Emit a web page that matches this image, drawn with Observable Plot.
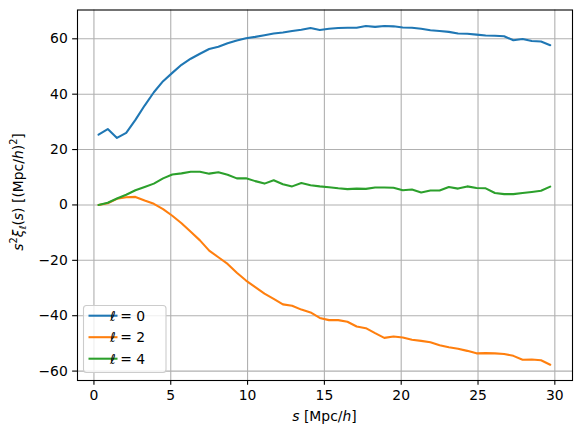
<!DOCTYPE html>
<html>
<head>
<meta charset="utf-8">
<script src="https://cdn.jsdelivr.net/npm/d3@7"></script>
<script src="https://cdn.jsdelivr.net/npm/@observablehq/plot@0.6"></script>
<style>
  html, body { margin: 0; padding: 0; background: #fff; }
  svg { display: block; }
</style>
</head>
<body>
<script>
// Separation bins s [Mpc/h]
const s = [0.3, 0.9, 1.5, 2.1, 2.7, 3.3, 3.9, 4.5, 5.1, 5.7,
           6.3, 6.9, 7.5, 8.1, 8.7, 9.3, 9.9, 10.5, 11.1, 11.7,
           12.3, 12.9, 13.5, 14.1, 14.7, 15.3, 15.9, 16.5, 17.1, 17.7,
           18.3, 18.9, 19.5, 20.1, 20.7, 21.3, 21.9, 22.5, 23.1, 23.7,
           24.3, 24.9, 25.5, 26.1, 26.7, 27.3, 27.9, 28.5, 29.1, 29.7];

// s^2 xi_ell(s) multipoles
const monopole = [25.4, 27.4, 24.2, 26.0, 30.7, 35.9, 40.7, 44.7, 47.7, 50.6,
                  52.8, 54.6, 56.3, 57.1, 58.4, 59.4, 60.2, 60.7, 61.3, 61.9,
                  62.3, 62.8, 63.3, 63.9, 63.2, 63.6, 63.9, 64.0, 64.0, 64.6,
                  64.3, 64.6, 64.5, 64.1, 64.0, 63.6, 63.1, 62.8, 62.5, 61.9,
                  61.8, 61.5, 61.2, 61.1, 60.9, 59.5, 59.9, 59.2, 59.0, 57.7];
const quadrupole = [0.0, 0.6, 2.2, 2.8, 2.9, 1.6, 0.4, -1.5, -3.9, -6.6,
                    -9.7, -12.8, -16.5, -18.9, -21.3, -24.5, -27.3, -29.7, -32.0, -33.9,
                    -35.9, -36.4, -37.8, -38.8, -40.8, -41.6, -41.6, -42.2, -43.9, -44.5,
                    -46.3, -48.0, -47.5, -47.9, -48.7, -49.1, -49.6, -50.7, -51.4, -51.9,
                    -52.7, -53.6, -53.5, -53.6, -53.8, -54.5, -55.9, -55.8, -56.1, -57.7];
const hexadecapole = [0.0, 0.8, 2.3, 3.7, 5.3, 6.5, 7.7, 9.6, 11.0, 11.4,
                      12.0, 12.0, 11.3, 11.8, 10.9, 9.6, 9.6, 8.6, 7.7, 8.9,
                      7.5, 6.7, 7.9, 7.1, 6.7, 6.4, 6.0, 5.7, 5.9, 5.8,
                      6.3, 6.3, 6.2, 5.3, 5.6, 4.5, 5.2, 5.2, 6.5, 5.9,
                      6.7, 6.1, 6.0, 4.3, 3.9, 3.9, 4.3, 4.7, 5.1, 6.6];

const ells = [0, 2, 4];
const colors = ["#1f77b4", "#ff7f0e", "#2ca02c"];
const xTicks = [0, 5, 10, 15, 20, 25, 30];
const yTicks = [-60, -40, -20, 0, 20, 40, 60];

const series = [monopole, quadrupole, hexadecapole];
const rows = series.flatMap((vals, k) => vals.map((v, i) => ({s: s[i], v, ell: ells[k]})));

const W = 582, H = 436;
const mL = 77, mR = 10, mT = 9.5, mB = 56;
const fontPx = 13.9;
const tick = 4.86;
const thin = 1.1;   // spines, ticks, grid
const thick = 2.08; // data lines

const chart = Plot.plot({
  width: W,
  height: H,
  marginLeft: mL,
  marginRight: mR,
  marginTop: mT,
  marginBottom: mB,
  style: {fontFamily: "DejaVu Sans", fontSize: fontPx + "px", color: "black", background: "white"},
  x: {domain: [-1.07, 31.15], label: null},
  y: {domain: [-63.4, 70.4], label: null},
  color: {domain: ells, range: colors},
  marks: [
    Plot.gridX(xTicks, {stroke: "#b0b0b0", strokeOpacity: 1, strokeWidth: thin}),
    Plot.gridY(yTicks, {stroke: "#b0b0b0", strokeOpacity: 1, strokeWidth: thin}),
    Plot.line(rows, {x: "s", y: "v", z: "ell", stroke: "ell", strokeWidth: thick, strokeLinejoin: "round"}),
    Plot.frame({stroke: "black", strokeWidth: thin}),
    Plot.axisX({ticks: xTicks, tickSize: tick, tickPadding: tick, strokeWidth: thin, label: null}),
    Plot.axisY({ticks: yTicks, tickSize: tick, tickPadding: tick, strokeWidth: thin, label: null})
  ]
});
document.body.appendChild(chart);

const svg = d3.select(chart);
const font = "DejaVu Sans";

// x-axis label: s [Mpc/h]
const xl = svg.append("text")
  .attr("x", (mL + W - mR) / 2).attr("y", 421)
  .attr("text-anchor", "middle")
  .attr("font-family", font).attr("font-size", fontPx).attr("fill", "black");
xl.append("tspan").attr("font-style", "italic").text("s");
xl.append("tspan").text(" [Mpc/");
xl.append("tspan").attr("font-style", "italic").text("h");
xl.append("tspan").text("]");

// y-axis label: s^2 xi_ell(s) [(Mpc/h)^2]
const yl = svg.append("text")
  .attr("transform", "translate(22.5,192) rotate(-90)")
  .attr("text-anchor", "middle")
  .attr("font-family", font).attr("font-size", fontPx).attr("fill", "black");
yl.append("tspan").attr("font-style", "italic").text("s");
yl.append("tspan").attr("font-size", fontPx * 0.7).attr("dy", -5.5).text("2");
yl.append("tspan").attr("font-style", "italic").attr("dy", 5.5).text("ξ");
yl.append("tspan").attr("font-style", "italic").attr("font-size", fontPx * 0.7).attr("dy", 3).text("ℓ");
yl.append("tspan").attr("dy", -3).text("(");
yl.append("tspan").attr("font-style", "italic").text("s");
yl.append("tspan").text(") [(Mpc/");
yl.append("tspan").attr("font-style", "italic").text("h");
yl.append("tspan").text(")");
yl.append("tspan").attr("font-size", fontPx * 0.7).attr("dy", -5.5).text("2");
yl.append("tspan").attr("dy", 5.5).text("]");

// legend box in the lower-left corner of the axes
const lg = svg.append("g");
lg.append("rect")
  .attr("x", 83.5).attr("y", 305.5).attr("width", 82.5).attr("height", 67)
  .attr("rx", 3).attr("fill", "white").attr("fill-opacity", 0.8)
  .attr("stroke", "#cccccc").attr("stroke-width", thin);
const rowY = [315.7, 337.2, 358.7];
ells.forEach((ell, k) => {
  lg.append("line")
    .attr("x1", 88.5).attr("x2", 117.5)
    .attr("y1", rowY[k]).attr("y2", rowY[k])
    .attr("stroke", colors[k]).attr("stroke-width", thick);
  const t = lg.append("text")
    .attr("x", 127.5).attr("y", rowY[k]).attr("dy", "0.36em")
    .attr("font-family", font).attr("font-size", fontPx).attr("fill", "black");
  t.append("tspan").attr("font-style", "italic").text("ℓ");
  t.append("tspan").text(" = " + ell);
});
</script>
</body>
</html>
